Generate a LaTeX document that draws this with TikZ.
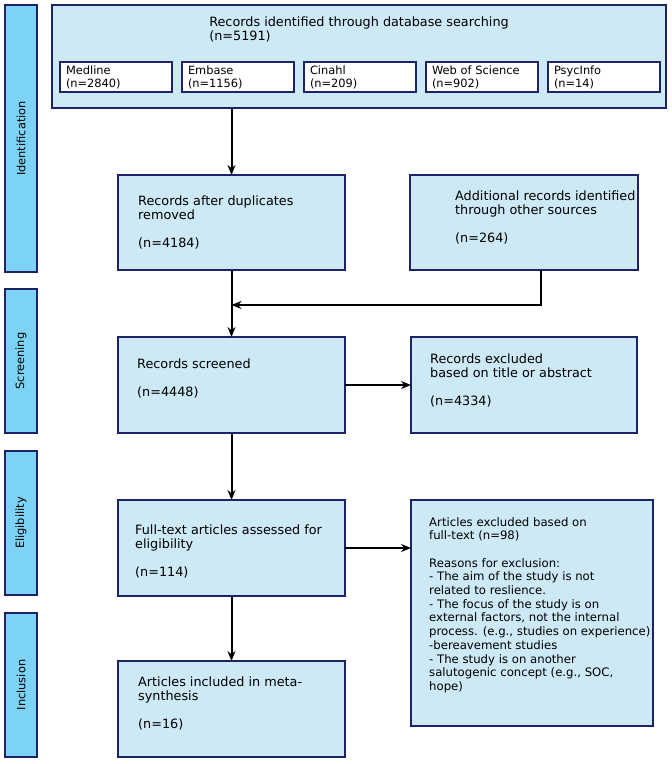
\documentclass[tikz,border=0pt]{standalone}
\usepackage{fontspec}
\setmainfont{DejaVu Sans}
\usetikzlibrary{%
    arrows.meta,
    positioning
}
\definecolor{navy}{RGB}{28,36,102}
\definecolor{boxblue}{RGB}{204,233,245}
\definecolor{barblue}{RGB}{125,211,245}
\newcommand{\boxfont}{\fontsize{12.8}{13.8}\selectfont}
\newcommand{\smallboxfont}{\fontsize{11.7}{13.7}\selectfont}
\newcommand{\dbfont}{\fontsize{11.4}{13}\selectfont}
\newcommand{\phasefont}{\fontsize{11.4}{13}\selectfont}
\tikzset{headarrow/.style = {-{Stealth[length=10pt,width=8pt]}, line width=2pt}}

\begin{document}
\begin{tikzpicture}[
    x=1pt, y=-1pt,
    stage/.style = {draw=navy, fill=boxblue, line width=2pt, inner sep=0pt,
        outer sep=0pt},
    boxtext/.style = {anchor=north west, align=left, inner sep=0pt, font=\boxfont},
    dbbox/.style = {draw=navy, fill=white, line width=2pt, font=\dbfont,
        align=left, text width=100pt, inner xsep=6pt, minimum height=30pt},
    phase/.style = {draw=navy, fill=barblue, line width=2pt, rotate=90,
        minimum height=32pt, font=\phasefont}]
    \useasboundingbox (0,0) rectangle (672,764);

    % phases on the left
    \node[phase, minimum width=267pt] (pident) at (21,138.5) {Identification};
    \node[phase, minimum width=144pt] (pscreen) at (21,361) {Screening};
    \node[phase, minimum width=144pt] (pelig) at (21,523) {Eligibility};
    \node[phase, minimum width=144pt] (pincl) at (21,685) {Inclusion};

    % database search
    \node[stage, anchor=north west, minimum width=614pt, minimum height=103pt]
        (ident) at (52,5) {};
    \node[boxtext, anchor=north] (ident-t) at ([yshift=-12pt]ident.north)
        {Records identified through database searching\\(n=5191)};
    \foreach \db/\hits [count=\i from 0] in
        {Medline/2840, Embase/1156, Cinahl/209, Web of Science/902, PsycInfo/14}
        \node[dbbox] (src\i) at ({116+\i*122},77) {\db\\(n=\hits)};

    % identification and screening
    \node[stage, anchor=north west, minimum width=227pt, minimum height=95pt]
        (dup) at (118,175) {};
    \node[stage, minimum width=228pt, minimum height=95pt]
        (add) [right=65pt of dup] {};
    \coordinate[below=35pt of dup.south] (merge);
    \node[stage, minimum width=227pt, minimum height=96pt]
        (screened) [below=67pt of dup] {};
    \node[stage, minimum width=226pt, minimum height=96pt]
        (excl) [right=66pt of screened] {};

    % eligibility and inclusion
    \node[stage, minimum width=227pt, minimum height=96pt]
        (fulltext) [below=67pt of screened] {};
    \node[stage, minimum width=242pt, minimum height=226pt]
        (artexcl) [right=66pt of fulltext.north east, anchor=north west] {};
    \node[stage, minimum width=227pt, minimum height=96pt]
        (included) [below=65pt of fulltext] {};

    \node[boxtext] (dup-t) at ([shift={(20pt,-21pt)}]dup.north west)
        {Records after duplicates\\removed\\[13.8pt](n=4184)};
    \node[boxtext] (add-t) at ([shift={(45pt,-16pt)}]add.north west)
        {Additional records identified\\through other sources\\[13.8pt](n=264)};
    \node[boxtext] (screened-t) at ([shift={(19pt,-22pt)}]screened.north west)
        {Records screened\\[13.8pt](n=4448)};
    \node[boxtext] (excl-t) at ([shift={(19pt,-17pt)}]excl.north west)
        {Records excluded\\based on title or abstract\\[13.8pt](n=4334)};
    \node[boxtext] (fulltext-t) at ([shift={(17pt,-25pt)}]fulltext.north west)
        {Full-text articles assessed for\\eligibility\\[13.8pt](n=114)};
    \node[boxtext, font=\smallboxfont] (artexcl-t)
        at ([shift={(18pt,-17pt)}]artexcl.north west)
        {Articles excluded based on\\full-text (n=98)\\[13.7pt]
         Reasons for exclusion:\\
         - The aim of the study is not\\
         related to reslience.\\
         - The focus of the study is on\\
         external factors, not the internal\\
         process. (e.g., studies on experience)\\
         -bereavement studies\\
         - The study is on another\\
         salutogenic concept (e.g., SOC,\\
         hope)};
    \node[boxtext] (included-t) at ([shift={(20pt,-16pt)}]included.north west)
        {Articles included in meta-\\synthesis\\[13.8pt](n=16)};

    \draw[headarrow] (dup.north |- ident.south) to (dup.north);
    \draw[headarrow] (dup) to (screened);
    \draw[headarrow] ([xshift=17pt]add.south) |- (merge);
    \draw[headarrow] (screened) to (excl);
    \draw[headarrow] (screened) to (fulltext);
    \draw[headarrow] (fulltext) to (fulltext -| artexcl.west);
    \draw[headarrow] (fulltext) to (included);
\end{tikzpicture}
\end{document}
